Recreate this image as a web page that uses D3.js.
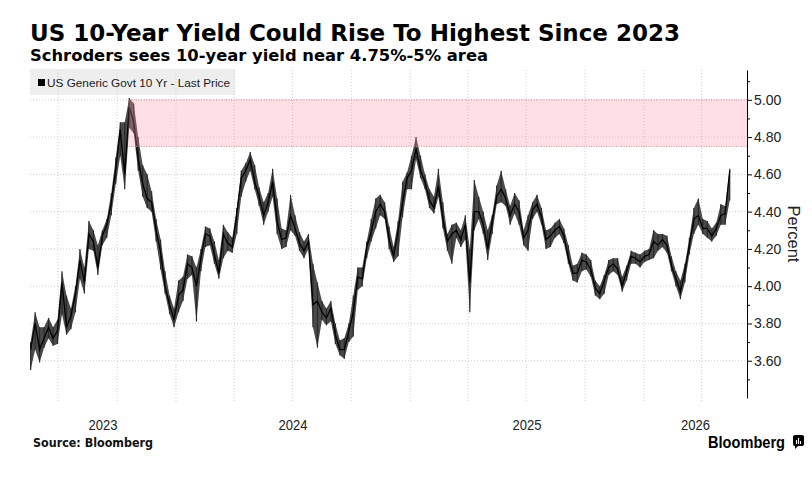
<!DOCTYPE html>
<html><head><meta charset="utf-8">
<script src="https://cdn.jsdelivr.net/npm/d3@7"></script>
<style>
html,body{margin:0;padding:0;background:#fff;}
svg{display:block;}
</style></head><body>
<svg id="chart" width="812" height="485"></svg>
<script>
// ---------- data ----------
const titleText = "US 10-Year Yield Could Rise To Highest Since 2023";
const subtitleText = "Schroders sees 10-year yield near 4.75%-5% area";
const legendLabel = "US Generic Govt 10 Yr - Last Price";
const sourceText = "Source: Bloomberg";
const axisTitle = "Percent";
const yearLabels = [2023, 2024, 2025, 2026];
const yMajorTicks = [3.6, 3.8, 4.0, 4.2, 4.4, 4.6, 4.8, 5.0];
const yMinorTicks = [3.5, 3.7, 3.9, 4.1, 4.3, 4.5, 4.7, 4.9, 5.1];
const bandRange = [4.75, 5.00];
const bandStart = "2023-10-19";
const firstWeek = "2023-05-19";   // weekly observations start
const weekStepDays = 7;

// weekly closes
const closeValues = [
 3.66,3.80,3.66,3.72,3.78,3.72,3.76,4.02,3.78,3.84,
 3.96,4.14,4.02,4.28,4.24,4.10,4.27,4.33,4.45,4.63,
 4.84,4.60,4.96,4.88,4.68,4.55,4.47,4.45,4.30,4.18,
 4.00,3.90,3.82,3.95,3.98,4.12,4.10,4.00,4.15,4.28,
 4.27,4.17,4.07,4.28,4.23,4.21,4.39,4.58,4.62,4.68,
 4.56,4.48,4.38,4.45,4.56,4.35,4.25,4.26,4.38,4.31,
 4.23,4.19,4.24,3.90,3.92,3.86,3.83,3.88,3.74,3.66,
 3.66,3.76,3.86,4.05,4.04,4.21,4.29,4.40,4.44,4.40,
 4.25,4.16,4.30,4.45,4.58,4.62,4.74,4.62,4.56,4.46,
 4.42,4.54,4.36,4.24,4.28,4.30,4.25,4.33,4.02,4.40,
 4.40,4.33,4.20,4.35,4.48,4.52,4.47,4.38,4.44,4.40,
 4.26,4.30,4.41,4.44,4.37,4.25,4.27,4.30,4.32,4.27,
 4.15,4.07,4.07,4.14,4.13,4.09,3.99,3.96,4.03,4.10,
 4.12,4.09,4.00,4.08,4.16,4.15,4.13,4.16,4.17,4.24,
 4.22,4.25,4.22,4.11,4.04,3.97,4.08,4.22,4.36,4.38,
 4.31,4.31,4.27,4.31,4.38,4.39,4.62
];
// weekly highs
const highValues = [
 3.70,3.86,3.78,3.78,3.83,3.78,3.82,4.08,3.95,3.88,
 4.00,4.20,4.10,4.35,4.30,4.22,4.30,4.36,4.50,4.69,
 4.88,4.88,5.01,4.98,4.80,4.65,4.60,4.51,4.36,4.25,
 4.08,3.95,3.88,4.03,4.05,4.17,4.16,4.10,4.20,4.32,
 4.31,4.24,4.14,4.33,4.29,4.26,4.42,4.62,4.66,4.72,
 4.65,4.53,4.45,4.50,4.63,4.47,4.31,4.30,4.49,4.38,
 4.29,4.24,4.28,4.12,4.02,3.92,3.88,3.92,3.80,3.71,
 3.72,3.80,3.95,4.10,4.10,4.24,4.36,4.47,4.49,4.45,
 4.32,4.21,4.35,4.56,4.61,4.70,4.80,4.70,4.60,4.52,
 4.48,4.63,4.45,4.28,4.33,4.34,4.30,4.38,4.20,4.57,
 4.48,4.40,4.30,4.38,4.54,4.62,4.52,4.43,4.50,4.46,
 4.30,4.38,4.45,4.49,4.42,4.30,4.31,4.34,4.36,4.31,
 4.22,4.11,4.12,4.18,4.17,4.14,4.03,4.00,4.06,4.14,
 4.15,4.15,4.05,4.11,4.19,4.18,4.17,4.19,4.20,4.30,
 4.28,4.28,4.27,4.16,4.08,4.03,4.12,4.26,4.42,4.47,
 4.36,4.35,4.31,4.34,4.44,4.43,4.63
];
// weekly lows
const lowValues = [
 3.55,3.66,3.59,3.67,3.72,3.68,3.69,3.85,3.74,3.77,
 3.86,4.04,3.96,4.20,4.19,4.06,4.22,4.26,4.38,4.55,
 4.70,4.52,4.85,4.82,4.62,4.48,4.42,4.40,4.24,4.09,
 3.96,3.85,3.78,3.86,3.92,4.04,4.06,3.81,4.08,4.21,
 4.22,4.12,4.04,4.15,4.19,4.18,4.28,4.48,4.56,4.62,
 4.52,4.43,4.33,4.40,4.48,4.28,4.20,4.21,4.30,4.27,
 4.19,4.15,4.20,3.78,3.67,3.82,3.79,3.81,3.69,3.63,
 3.61,3.70,3.73,3.98,4.00,4.15,4.24,4.31,4.38,4.36,
 4.20,4.13,4.16,4.37,4.52,4.52,4.68,4.58,4.52,4.42,
 4.39,4.48,4.31,4.19,4.12,4.26,4.21,4.25,3.86,4.30,
 4.36,4.28,4.14,4.28,4.44,4.45,4.43,4.33,4.39,4.33,
 4.22,4.19,4.36,4.40,4.33,4.20,4.21,4.26,4.28,4.23,
 4.12,4.03,4.02,4.08,4.09,4.05,3.95,3.93,3.96,4.06,
 4.08,4.06,3.97,4.03,4.12,4.12,4.10,4.13,4.14,4.15,
 4.19,4.21,4.18,4.08,4.00,3.93,4.02,4.17,4.28,4.33,
 4.28,4.26,4.24,4.27,4.33,4.33,4.46
];

// ---------- chart ----------
const parse = d3.timeParse("%Y-%m-%d");
const start = parse(firstWeek);
const rows = closeValues.map((c, i) => ({
  date: d3.timeDay.offset(start, i * weekStepDays),
  close: c, high: highValues[i], low: lowValues[i]
}));

const svg = d3.select("#chart");
const plotL = 30, plotR = 747, plotT = 70, plotB = 398;
const x = d3.scaleTime().domain([parse("2023-05-18"), parse("2026-06-11")]).range([plotL, plotR]);
const y = d3.scaleLinear().domain([3.40, 5.16]).range([plotB, plotT]);

// title / subtitle
svg.append("text").attr("x", 30).attr("y", 41)
  .attr("font-family", "DejaVu Sans").attr("font-weight", "bold").attr("font-size", 22.5)
  .attr("textLength", 650).attr("lengthAdjust", "spacingAndGlyphs")
  .attr("fill", "#000").text(titleText);
svg.append("text").attr("x", 30).attr("y", 61)
  .attr("font-family", "DejaVu Sans").attr("font-weight", "bold").attr("font-size", 16.3)
  .attr("textLength", 458).attr("lengthAdjust", "spacingAndGlyphs")
  .attr("fill", "#000").text(subtitleText);

// gridlines
const grid = svg.append("g");
grid.selectAll("line.v").data(x.ticks(d3.timeMonth.every(3))).join("line")
  .attr("x1", d => x(d)).attr("x2", d => x(d))
  .attr("y1", plotT).attr("y2", plotB + 4)
  .attr("stroke", "#cfcfcf").attr("stroke-width", 1).attr("stroke-dasharray", "1,2");
grid.selectAll("line.h").data(yMajorTicks).join("line")
  .attr("x1", plotL).attr("x2", plotR)
  .attr("y1", d => y(d)).attr("y2", d => y(d))
  .attr("stroke", "#cfcfcf").attr("stroke-width", 1).attr("stroke-dasharray", "1,2");

// price series: high-low envelope, bars, close line
const area = d3.area().x(d => x(d.date)).y0(d => y(d.low)).y1(d => y(d.high));
svg.append("path").datum(rows).attr("d", area).attr("fill", "#4a4a4a");
svg.append("g").selectAll("line").data(rows).join("line")
  .attr("x1", d => x(d.date)).attr("x2", d => x(d.date))
  .attr("y1", d => y(d.low)).attr("y2", d => y(d.high))
  .attr("stroke", "#2a2a2a").attr("stroke-width", 1.2);
const line = d3.line().x(d => x(d.date)).y(d => y(d.close));
svg.append("path").datum(rows).attr("d", line)
  .attr("fill", "none").attr("stroke", "#000").attr("stroke-width", 1.3).attr("stroke-linejoin", "miter");

// shaded target band
const bx = x(parse(bandStart));
svg.append("rect").attr("x", bx).attr("width", plotR - bx)
  .attr("y", y(bandRange[1])).attr("height", y(bandRange[0]) - y(bandRange[1]))
  .attr("fill", "rgba(250,150,170,0.3)");
svg.append("g").selectAll("line").data(bandRange).join("line")
  .attr("x1", bx).attr("x2", plotR)
  .attr("y1", d => y(d)).attr("y2", d => y(d))
  .attr("stroke", "#d98c99").attr("stroke-width", 1).attr("stroke-dasharray", "1,1.5");

// legend
svg.append("rect").attr("x", 30).attr("y", 69).attr("width", 205).attr("height", 26)
  .attr("fill", "rgba(215,215,215,0.42)");
svg.append("rect").attr("x", 38).attr("y", 79).attr("width", 7).attr("height", 7).attr("fill", "#000");
svg.append("text").attr("x", 47).attr("y", 86.5)
  .attr("font-family", "Liberation Sans").attr("font-size", 11.5)
  .attr("textLength", 183).attr("lengthAdjust", "spacingAndGlyphs")
  .attr("fill", "#1a1a1a").text(legendLabel);

// y axis (right)
const yAxis = d3.axisRight(y).tickValues(yMajorTicks).tickFormat(d3.format(".2f"))
  .tickSizeInner(5).tickSizeOuter(0).tickPadding(2);
const ga = svg.append("g").attr("transform", `translate(${plotR},0)`).call(yAxis);
ga.select(".domain").attr("stroke", "#000");
ga.selectAll(".tick line").attr("stroke", "#000");
ga.selectAll(".tick text").attr("font-family", "Liberation Sans").attr("font-size", 14).attr("fill", "#222");
const gm = svg.append("g").attr("transform", `translate(${plotR},0)`)
  .call(d3.axisRight(y).tickValues(yMinorTicks).tickFormat("").tickSizeInner(3).tickSizeOuter(0));
gm.select(".domain").remove();
gm.selectAll(".tick line").attr("stroke", "#000");

svg.append("text").attr("transform", "translate(788,234) rotate(90)")
  .attr("text-anchor", "middle").attr("font-family", "Liberation Sans").attr("font-size", 16.5)
  .attr("fill", "#222").text(axisTitle);

// x year labels centred in the visible part of each year
const [d0, d1] = x.domain();
svg.append("g").selectAll("text").data(yearLabels).join("text")
  .attr("x", yr => {
    const a = new Date(Math.max(+d0, +new Date(yr, 0, 1)));
    const b = new Date(Math.min(+d1, +new Date(yr + 1, 0, 1)));
    return (x(a) + x(b)) / 2;
  })
  .attr("y", 430).attr("text-anchor", "middle")
  .attr("font-family", "Liberation Sans").attr("font-size", 14)
  .attr("textLength", 29).attr("lengthAdjust", "spacingAndGlyphs")
  .attr("fill", "#222").text(d => d);

// footer
svg.append("text").attr("x", 33).attr("y", 447)
  .attr("font-family", "DejaVu Sans").attr("font-weight", "bold").attr("font-size", 11.5)
  .attr("textLength", 120).attr("lengthAdjust", "spacingAndGlyphs")
  .attr("fill", "#111").text(sourceText);
svg.append("text").attr("x", 708).attr("y", 448)
  .attr("font-family", "Liberation Sans").attr("font-weight", "bold").attr("font-size", 16.5)
  .attr("textLength", 77).attr("lengthAdjust", "spacingAndGlyphs")
  .attr("fill", "#000").text("Bloomberg");
const logo = svg.append("g").attr("transform", "translate(793,435)");
logo.append("rect").attr("width", 11).attr("height", 11).attr("rx", 2).attr("fill", "#000");
logo.append("path").attr("d", "M2,11 L2,14 L5,11 Z").attr("fill", "#000");
logo.selectAll("line").data([3.5, 5.5, 7.5]).join("line")
  .attr("x1", d => d).attr("x2", d => d).attr("y1", (d, i) => [5, 3, 6][i]).attr("y2", 9)
  .attr("stroke", "#fff").attr("stroke-width", 1.1);
</script>
</body></html>
